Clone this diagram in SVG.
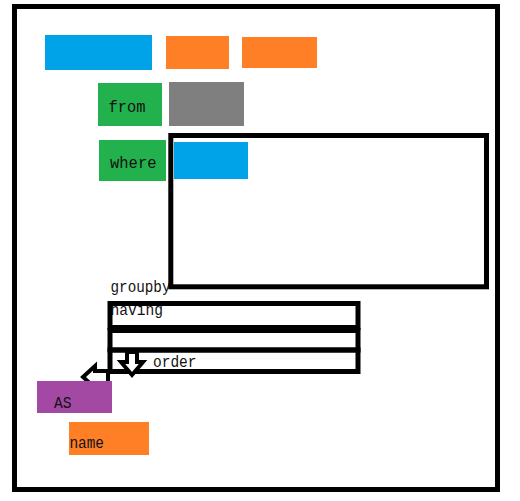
<svg xmlns="http://www.w3.org/2000/svg" width="520" height="501" viewBox="0 0 520 501">
<style>
.frame{fill:none;stroke:#000;stroke-width:5}
.lbl{font-family:"Liberation Mono","DejaVu Sans Mono",monospace;font-size:16.5px;fill:#111}
.big{font-size:17px}
.arrow{fill:#fff;stroke:#000;stroke-width:4;stroke-linejoin:miter}
</style>
<rect x="0" y="0" width="520" height="501" fill="#fff"/>
<g id="outer"><rect class="frame" x="14.5" y="6.5" width="483" height="483"/></g>
<g id="top-blue"><rect x="45" y="35" width="107" height="35" fill="#00A2E8"/></g>
<g id="top-orange-1"><rect x="166" y="36" width="63" height="33" fill="#FF7F27"/></g>
<g id="top-orange-2"><rect x="242" y="37" width="75" height="31" fill="#FF7F27"/></g>
<g id="from"><rect x="98" y="83" width="64" height="43" fill="#22B14C"/><text class="lbl big" x="108.5" y="112" textLength="37" lengthAdjust="spacingAndGlyphs">from</text></g>
<g id="from-table"><rect x="169" y="82" width="75" height="44" fill="#7F7F7F"/></g>
<g id="where"><rect x="99" y="140" width="67" height="41" fill="#22B14C"/><text class="lbl big" x="110" y="167.5" textLength="46.5" lengthAdjust="spacingAndGlyphs">where</text></g>
<g id="groupby-label"><text class="lbl" x="110.5" y="291.5" textLength="60" lengthAdjust="spacingAndGlyphs">groupby</text></g>
<g id="where-box"><rect class="frame" x="170.8" y="135.5" width="315.7" height="151.3"/></g>
<g id="where-blue"><rect x="174" y="142" width="74" height="37" fill="#00A2E8"/></g>
<g id="having"><text class="lbl" x="110.5" y="315" textLength="52.5" lengthAdjust="spacingAndGlyphs">having</text><rect class="frame" x="110" y="303.5" width="248" height="24"/></g>
<g id="middle-row"><rect class="frame" x="110" y="330.5" width="248" height="19.5"/></g>
<g id="order"><rect class="frame" x="110" y="350" width="248" height="21.5"/><text class="lbl" x="153" y="367" textLength="43.5" lengthAdjust="spacingAndGlyphs">order</text></g>
<g id="connectors">
<polygon class="arrow" points="127,352 137,352 137,362 143,362 132,375 121,362 127,362"/>
<polygon class="arrow" points="83,377 95,366 95,371 108,371 108,383 95,383 95,388"/>
</g>
<g id="as"><rect x="37" y="381" width="75" height="32" fill="#A349A4"/><text class="lbl" x="54" y="407.5" textLength="17.5" lengthAdjust="spacingAndGlyphs">AS</text></g>
<g id="name"><rect x="69" y="422" width="80" height="33" fill="#FF7F27"/><text class="lbl" x="69.5" y="447.5" textLength="34.5" lengthAdjust="spacingAndGlyphs">name</text></g>
</svg>
